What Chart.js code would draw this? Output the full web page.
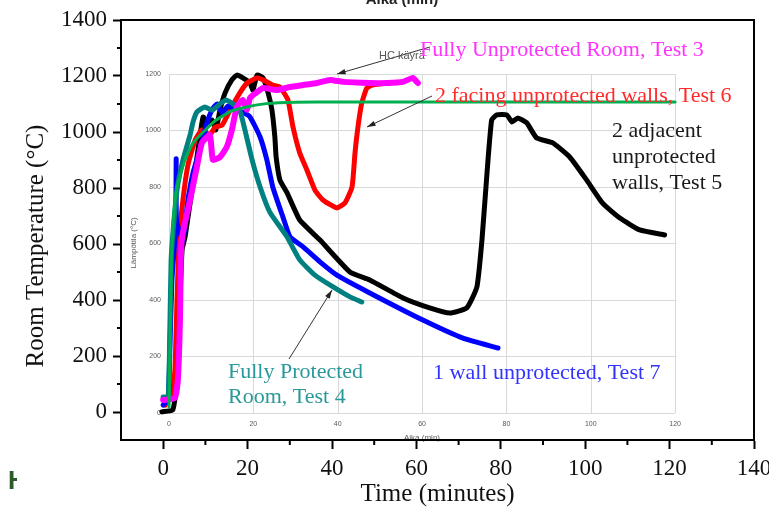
<!DOCTYPE html>
<html>
<head>
<meta charset="utf-8">
<script src="https://cdn.jsdelivr.net/npm/chart.js@4.4.1/dist/chart.umd.min.js"></script>
<style>
  html, body { margin: 0; padding: 0; background: #fff; }
  canvas { display: block; }
</style>
</head>
<body>
<canvas id="fireChart" width="769" height="507"></canvas>
<script>
// Main axis ticks
const xTicks = [0, 20, 40, 60, 80, 100, 120, 140];
const yTicks = [0, 200, 400, 600, 800, 1000, 1200, 1400];
const xMinor = [10, 30, 50, 70, 90, 110, 130];
const yMinor = [100, 300, 500, 700, 900, 1100, 1300];

// Inner (pasted) chart grid
const innerX = [0, 20, 40, 60, 80, 100, 120];
const innerY = [0, 200, 400, 600, 800, 1000, 1200];

// Series [time min, temperature °C]
const hcCurve = [[0, 20], [0.3, 300], [0.6, 550], [1, 680], [1.9, 800], [3.8, 896], [5.7, 956],
  [8.5, 1000], [11, 1035], [15, 1070], [19, 1085], [23, 1095], [30, 1100], [40, 1101], [120, 1101]];

const test3 = [[-1.4, 46], [1.4, 53], [2.1, 117], [2.6, 329], [2.8, 542], [3.1, 623], [5, 754],
  [6.6, 871], [7.8, 956], [9.7, 984], [10.4, 896], [12.1, 906], [13.7, 942], [14.9, 1002],
  [16.1, 1083], [17.5, 1108], [18.5, 1073], [19.2, 1115], [20.9, 1136], [22.3, 1150], [25.6, 1143],
  [28.7, 1154], [31.8, 1161], [35.1, 1168], [38.2, 1179], [41.2, 1172], [47.6, 1168], [51.7, 1168],
  [55.5, 1172], [57.8, 1186], [59, 1168]];

const test4 = [[-1.4, 57], [-0.2, 57], [0.2, 294], [0.5, 540], [1, 650], [1.9, 790], [3.3, 895],
  [5, 984], [5.7, 1030], [6.6, 1065], [8.5, 1083], [10.2, 1072], [12.1, 1094], [13.5, 1108],
  [15.2, 1094], [16.8, 1070], [18, 1002], [19.7, 896], [21.6, 800], [23.9, 711], [28, 623],
  [31, 542], [34.6, 488], [38.9, 446], [42.9, 411], [45.7, 393]];

const test5 = [[-1.7, 4], [0.9, 11], [1.9, 117], [2.6, 400], [3.1, 577], [3.8, 623], [5, 743],
  [6.2, 860], [7.3, 977], [8.1, 1048], [9, 1019], [10.2, 1037], [11.1, 1002], [12.1, 1073],
  [13.3, 1133], [14.9, 1179], [16.1, 1196], [17.5, 1186], [19.2, 1168], [19.9, 1143], [20.9, 1196],
  [22.3, 1186], [23.5, 1133], [24.4, 1073], [25.1, 977], [25.4, 906], [26.3, 825], [28, 779],
  [31, 683], [35.8, 612], [42.9, 499], [47.6, 471], [55.5, 407], [61.8, 372], [66.6, 354],
  [70.6, 372], [73, 446], [74.2, 612], [75.4, 850], [76.5, 1037], [77.7, 1055], [80.1, 1055],
  [81.3, 1030], [82.7, 1044], [84.8, 1027], [87.2, 973], [91, 956], [95, 906], [99, 825],
  [102.8, 743], [106.9, 690], [111.6, 648], [117.5, 630]];

const test6 = [[-0.9, 28], [0.7, 64], [1.4, 152], [1.9, 400], [2.4, 612], [3.3, 754], [4.5, 878],
  [6.2, 966], [7.8, 1002], [9.7, 984], [10.9, 1012], [12.6, 1019], [14.5, 1073], [16.8, 1133],
  [18.5, 1168], [20.9, 1186], [22.3, 1179], [24.6, 1161], [26.3, 1154], [28.2, 1108], [29.4, 1012],
  [31, 920], [32.7, 860], [34.6, 789], [36.5, 754], [39.8, 726], [41.7, 743], [43.4, 800],
  [44.1, 920], [44.8, 1012], [45.7, 1097], [46.9, 1150], [48.3, 1161], [52.4, 1168]];

const test7 = [[-1.4, 28], [-0.2, 46], [0.2, 223], [0.7, 471], [1.4, 612], [1.6, 650], [1.7, 900],
  [1.8, 680], [3.3, 612], [4.5, 754], [5.7, 850], [7.3, 931], [9, 1027], [10.2, 1073], [11.4, 1094],
  [12.6, 1062], [14, 1087], [15.6, 1073], [17.3, 1065], [19.2, 1048], [21.6, 977], [23.2, 896],
  [24.6, 800], [27, 694], [28.7, 623], [31.8, 588], [35.8, 535], [39.8, 488], [47.6, 425],
  [60.2, 329], [69.7, 265], [78, 230]];

const serif = "'Liberation Serif', 'Times New Roman', serif";
const sans = "'Liberation Sans', Arial, sans-serif";

const toXY = arr => arr.map(p => ({ x: p[0], y: p[1] }));

function arrow(ctx, x1, y1, x2, y2) {
  const a = Math.atan2(y2 - y1, x2 - x1);
  ctx.beginPath();
  ctx.moveTo(x1, y1);
  ctx.lineTo(x2, y2);
  ctx.stroke();
  ctx.beginPath();
  ctx.moveTo(x2, y2);
  ctx.lineTo(x2 - 9 * Math.cos(a - 0.3), y2 - 9 * Math.sin(a - 0.3));
  ctx.lineTo(x2 - 9 * Math.cos(a + 0.3), y2 - 9 * Math.sin(a + 0.3));
  ctx.closePath();
  ctx.fill();
}

// grid and labels of the pasted inner chart, under everything else
const innerChart = {
  id: 'innerChart',
  beforeDraw(chart) {
    const { ctx } = chart;
    const sx = chart.scales.x2, sy = chart.scales.y2;
    const l = sx.getPixelForValue(innerX[0]), r = sx.getPixelForValue(innerX[innerX.length - 1]);
    const b = sy.getPixelForValue(innerY[0]), t = sy.getPixelForValue(innerY[innerY.length - 1]);
    ctx.save();
    ctx.strokeStyle = '#d9d9d9';
    ctx.lineWidth = 1;
    innerX.forEach(v => {
      const p = Math.round(sx.getPixelForValue(v)) + 0.5;
      ctx.beginPath(); ctx.moveTo(p, t); ctx.lineTo(p, b); ctx.stroke();
    });
    innerY.forEach(v => {
      const p = Math.round(sy.getPixelForValue(v)) + 0.5;
      ctx.beginPath(); ctx.moveTo(l, p); ctx.lineTo(r, p); ctx.stroke();
    });
    ctx.fillStyle = '#595959';
    ctx.font = '7px ' + sans;
    ctx.textAlign = 'right';
    ctx.textBaseline = 'middle';
    innerY.forEach(v => ctx.fillText(String(v), l - 8, sy.getPixelForValue(v)));
    ctx.textAlign = 'center';
    innerX.forEach(v => ctx.fillText(String(v), sx.getPixelForValue(v), b + 11));
    ctx.font = '8px ' + sans;
    ctx.fillText('Aika (min)', 422, 438);
    ctx.save();
    ctx.translate(134, 243);
    ctx.rotate(-Math.PI / 2);
    ctx.fillText('Lämpötila (°C)', 0, 0);
    ctx.restore();

    // cut-off caption at the very top
    ctx.fillStyle = '#222';
    ctx.font = 'bold 15px ' + sans;
    ctx.textBaseline = 'alphabetic';
    ctx.fillText('Aika (min)', 402, 4);
    ctx.restore();
  }
};

const frameAndNotes = {
  id: 'frameAndNotes',
  afterDraw(chart) {
    const { ctx, chartArea: a } = chart;
    const sx = chart.scales.x, sy = chart.scales.y;
    ctx.save();
    ctx.strokeStyle = '#000';
    ctx.lineWidth = 2;
    ctx.strokeRect(a.left, a.top, a.right - a.left, a.bottom - a.top);
    // minor ticks
    xMinor.forEach(v => {
      const p = sx.getPixelForValue(v);
      ctx.beginPath(); ctx.moveTo(p, a.bottom); ctx.lineTo(p, a.bottom + 5); ctx.stroke();
    });
    yMinor.forEach(v => {
      const p = sy.getPixelForValue(v);
      ctx.beginPath(); ctx.moveTo(a.left - 4, p); ctx.lineTo(a.left, p); ctx.stroke();
    });

    // y axis title
    ctx.fillStyle = '#111';
    ctx.font = '25px ' + serif;
    ctx.textAlign = 'center';
    ctx.textBaseline = 'middle';
    ctx.save();
    ctx.translate(36, 246);
    ctx.rotate(-Math.PI / 2);
    ctx.fillText('Room Temperature (°C)', 0, 0);
    ctx.restore();

    // arrows
    ctx.strokeStyle = '#333';
    ctx.fillStyle = '#222';
    ctx.lineWidth = 1;
    arrow(ctx, 430, 47, 337, 74);
    arrow(ctx, 432, 96, 367, 127);
    arrow(ctx, 289, 359, 332, 290);

    ctx.textAlign = 'left';
    ctx.font = '11px ' + sans;
    ctx.fillStyle = '#555';
    ctx.fillText('HC käyrä', 379, 56);

    ctx.font = '22px ' + serif;
    ctx.fillStyle = '#ff33ff';
    ctx.fillText('Fully Unprotected Room, Test 3', 420, 50);
    ctx.fillStyle = '#ff2a2a';
    ctx.fillText('2 facing unprotected walls, Test 6', 435, 96);
    ctx.fillStyle = '#1a1a1a';
    ctx.fillText('2 adjacent', 612, 131);
    ctx.fillText('unprotected', 612, 157);
    ctx.fillText('walls, Test 5', 612, 183);
    ctx.fillStyle = '#2a9898';
    ctx.fillText('Fully Protected', 228, 372);
    ctx.fillText('Room, Test 4', 228, 397);
    ctx.fillStyle = '#3333ff';
    ctx.fillText('1 wall unprotected, Test 7', 433, 373);

    // stray glyph at the lower left
    ctx.beginPath();
    ctx.rect(0, 460, 17, 40);
    ctx.clip();
    ctx.fillStyle = '#2d5a2d';
    ctx.font = 'bold 26px ' + sans;
    ctx.fillText('H', 8, 482);
    ctx.restore();
  }
};

const line = (label, data, color, width) => ({
  label, data: toXY(data),
  borderColor: color, backgroundColor: color,
  borderWidth: width, pointRadius: 0, tension: 0.15,
  borderJoinStyle: 'round', borderCapStyle: 'round',
  xAxisID: 'x2', yAxisID: 'y2'
});

new Chart(document.getElementById('fireChart'), {
  type: 'line',
  data: {
    datasets: [
      line('HC käyrä', hcCurve, '#00b050', 3),
      line('Test 3', test3, '#ff00ff', 6),
      line('Test 4', test4, '#008080', 5),
      line('Test 7', test7, '#0000ff', 5),
      line('Test 6', test6, '#ff0000', 5),
      line('Test 5', test5, '#000000', 5)
    ]
  },
  options: {
    responsive: false,
    animation: false,
    devicePixelRatio: 1,
    layout: { padding: { top: 20, right: 15, left: 0, bottom: 0 } },
    plugins: { legend: { display: false }, tooltip: { enabled: false } },
    scales: {
      x: {
        type: 'linear', min: -10, max: 140,
        afterBuildTicks: s => { s.ticks = xTicks.map(v => ({ value: v })); },
        afterFit: s => { s.height = 67; s.paddingLeft = 0; s.paddingRight = 0; },
        ticks: { font: { family: serif, size: 23 }, color: '#111', padding: 6,
          maxRotation: 0, autoSkip: false, callback: v => String(v) },
        grid: { drawOnChartArea: false, tickLength: 9, tickWidth: 2, tickColor: '#000' },
        border: { color: '#000', width: 2 },
        title: { display: true, text: 'Time (minutes)', color: '#111',
          font: { family: serif, size: 25 }, padding: { top: 0, bottom: -2 } }
      },
      y: {
        type: 'linear', min: -100, max: 1400,
        afterBuildTicks: s => { s.ticks = yTicks.map(v => ({ value: v })); },
        afterFit: s => { s.width = 121; s.paddingTop = 0; s.paddingBottom = 0; },
        ticks: { font: { family: serif, size: 23 }, color: '#111', padding: 6,
          autoSkip: false, callback: v => String(v) },
        grid: { drawOnChartArea: false, tickLength: 8, tickWidth: 2, tickColor: '#000' },
        border: { color: '#000', width: 2 }
      },
      x2: { type: 'linear', display: false, min: -11.38, max: 138.7 },
      y2: { type: 'linear', display: false, min: -95.6, max: 1391 }
    }
  },
  plugins: [innerChart, frameAndNotes]
});
</script>
</body>
</html>
